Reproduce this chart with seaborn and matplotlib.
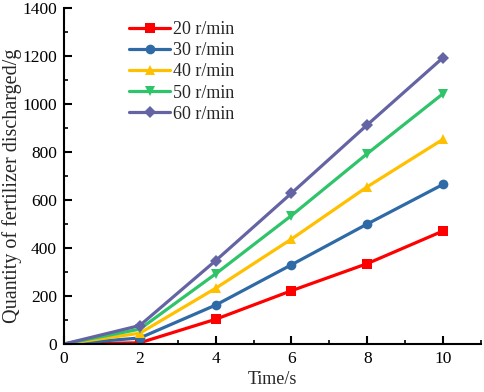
import numpy as np
import pandas as pd
import matplotlib
matplotlib.use("Agg")
import matplotlib.pyplot as plt
import seaborn as sns
from matplotlib.ticker import MultipleLocator

time_s = [0, 2, 4, 6, 8, 10]
speeds = ["20 r/min", "30 r/min", "40 r/min", "50 r/min", "60 r/min"]
q20 = [0, 5, 103, 222, 335, 471]
q30 = [0, 25, 162, 330, 500, 665]
q40 = [0, 45, 232, 437, 655, 853]
q50 = [0, 62, 292, 535, 793, 1043]
q60 = [0, 77, 347, 628, 913, 1193]
series = [q20, q30, q40, q50, q60]

colors = ["#FF0000", "#2E6AA6", "#FFC000", "#2FC46A", "#6464A4"]
markers = ["s", "o", "^", "v", "D"]
msizes = [6.5, 7, 7.5, 7.5, 6.5]

rows = []
for name, vals in zip(speeds, series):
    for t, v in zip(time_s, vals):
        rows.append({"Time": t, "Quantity": v, "Speed": name})
df = pd.DataFrame(rows)

sns.set_style("ticks")
plt.rcParams["font.family"] = ["Liberation Serif", "DejaVu Serif"]

fig = plt.figure(figsize=(4.84, 3.92), dpi=100)
ax = fig.add_axes([0.132, 0.1224, 0.862, 0.8576])

for name, c, m, ms in zip(speeds, colors, markers, msizes):
    sub = df[df["Speed"] == name]
    sns.lineplot(data=sub, x="Time", y="Quantity", ax=ax, color=c, linewidth=2.3,
                 marker=m, markersize=ms, markeredgewidth=0, markevery=[1, 2, 3, 4, 5],
                 label=name, legend=False, clip_on=True)

ax.set_xlim(0, 11)
ax.set_ylim(0, 1400)
ax.xaxis.set_major_locator(MultipleLocator(2))
ax.xaxis.set_minor_locator(MultipleLocator(1))
ax.yaxis.set_major_locator(MultipleLocator(200))
ax.yaxis.set_minor_locator(MultipleLocator(100))
ax.tick_params(which="major", direction="in", length=5.5, width=1.5, labelsize=12.5, pad=5, color="black", labelcolor="black")
ax.tick_params(which="minor", direction="in", length=3, width=1.2, color="black")
for s in ["top", "right"]:
    ax.spines[s].set_visible(False)
for s in ["left", "bottom"]:
    ax.spines[s].set_linewidth(1.5)
    ax.spines[s].set_color("black")

ax.set_xlabel("Time/s", fontsize=13, labelpad=3)
ax.set_ylabel("Quantity of fertilizer discharged/g", fontsize=14.5)
ax.yaxis.set_label_coords(-0.10, 0.47)

leg = ax.legend(loc="upper left", bbox_to_anchor=(0.139, 0.982), frameon=False, fontsize=13,
                handlelength=2.27, handletextpad=0.15, labelspacing=0.23, borderaxespad=0.0,
                borderpad=0.4)

fig.savefig("out.png", dpi=100)
